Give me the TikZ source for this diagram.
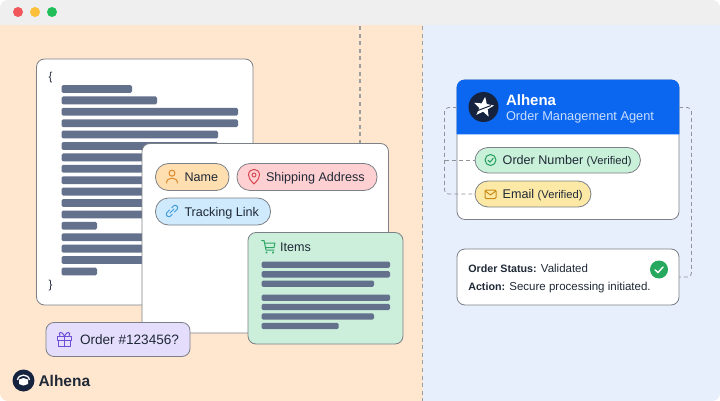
\documentclass[tikz,border=0pt]{standalone}
\usepackage{fontspec}
\setmainfont{Liberation Sans}
\definecolor{peach}{HTML}{FFE6CF}
\definecolor{sky}{HTML}{E8EFFC}
\definecolor{topbar}{HTML}{EFEFEF}
\definecolor{barc}{HTML}{64718C}
\definecolor{edge}{HTML}{7C8087}
\definecolor{ink}{HTML}{1F2937}
\definecolor{navy}{HTML}{16233F}
\definecolor{blueh}{HTML}{0B66F0}
\tikzset{
  card/.style={draw=edge,line width=.8pt,fill=white,rounded corners=8pt,inner sep=0pt,outer sep=0pt},
  pill/.style={draw=edge,line width=.8pt,rounded corners=13pt,inner sep=0pt,outer sep=0pt},
  txt/.style={anchor=base west,inner sep=0pt,outer sep=0pt,text=ink},
  barline/.style={fill=barc,rounded corners=1.5pt},
  icon/.style={line width=1pt,line cap=round,line join=round},
  conn/.style={draw=edge!85,line width=.8pt,dash pattern=on 4pt off 3pt,rounded corners=4pt},
  divider/.style={draw=black!38,line width=1.2pt,dash pattern=on 4pt off 3.6pt}
}
\begin{document}
\begin{tikzpicture}[x=1pt,y=-1pt,font=\fontsize{12.6pt}{15pt}\selectfont]
\useasboundingbox (0,0) rectangle (720,401);
% window
\fill[white] (0,0) rectangle (720,401);
\begin{scope}
\clip[rounded corners=8pt] (0,0) rectangle (720,401);
\fill[peach] (0,25) rectangle (422.5,401);
\fill[sky] (422.5,25) rectangle (720,401);
\fill[topbar] (0,0) rectangle (720,25.5);
\end{scope}
\fill[color={rgb,255:red,240;green,86;blue,90}] (18,12) circle[radius=5pt];
\fill[color={rgb,255:red,251;green,191;blue,58}] (35,12) circle[radius=5pt];
\fill[color={rgb,255:red,34;green,190;blue,90}] (52,12) circle[radius=5pt];
\coordinate (divAtop) at (360,26);
\coordinate (divAbot) at (360,144);
\coordinate (divBtop) at (422.5,26);
\coordinate (divBbot) at (422.5,401);
\draw[divider] (divAtop) -- (divAbot);
\draw[divider] (divBtop) -- (divBbot);

% JSON card
\node[card,minimum width=216.5pt,minimum height=246pt] (json) at (144.75,182) {};
\node[txt,font=\fontsize{11.5pt}{14pt}\selectfont] (open) at (48.5,81) {\{};
\node[txt,font=\fontsize{11.5pt}{14pt}\selectfont] (close) at (48.5,288) {\}};
\foreach \yy/\xx in {89/132,100.4/157,111.8/238,123.2/238,134.6/218,146/218,157.4/218,168.8/218,180.2/218,191.6/218,203/218,214.4/218,225.8/97,237.2/218,248.6/218,260/218,271.4/97}
  \path[barline] (61.5,\yy-3.9) rectangle (\xx,\yy+3.9);

% fields card
\node[card,minimum width=246.5pt,minimum height=189.5pt] (fields) at (265.25,238.25) {};
\node[pill,fill={rgb,255:red,255;green,222;blue,176},minimum width=73.5pt,minimum height=27pt] (name) at (192.25,177) {};
\node[pill,fill={rgb,255:red,255;green,208;blue,210},minimum width=140pt,minimum height=27pt] (ship) at (307,177) {};
\node[pill,fill={rgb,255:red,208;green,234;blue,253},minimum width=115pt,minimum height=27pt] (track) at (213,211.5) {};
\node[txt] (nametxt) at (184.5,181.5) {Name};
\node[txt] (shiptxt) at (266,181.5) {Shipping Address};
\node[txt] (tracktxt) at (184.5,216) {Tracking Link};
% person
\begin{scope}[icon,draw={rgb,255:red,217;green,138;blue,46}]
\draw (172,173.2) circle[radius=3pt];
\draw (166.5,183) .. controls (166.5,176.5) and (177.5,176.5) .. (177.5,183);
\end{scope}
% pin
\begin{scope}[icon,draw={rgb,255:red,214;green,69;blue,80}]
\draw (254,184) .. controls (250,180) and (248.5,177.5) .. (248.5,175) .. controls (248.5,167.5) and (259.5,167.5) .. (259.5,175) .. controls (259.5,177.5) and (258,180) .. cycle;
\draw (254,175) circle[radius=2pt];
\end{scope}
% link
\begin{scope}[icon,draw={rgb,255:red,59;green,155;blue,216},rotate around={45:(172,211)}]
\draw[rounded corners=2.4pt] (171,208.5) -- (165,208.5) -- (165,213.5) -- (170,213.5);
\draw[rounded corners=2.4pt] (173,213.5) -- (179,213.5) -- (179,208.5) -- (174,208.5);
\draw (169,211) -- (175,211);
\end{scope}

% items card
\node[card,fill={rgb,255:red,203;green,239;blue,219},minimum width=155pt,minimum height=111.5pt] (items) at (325.5,288.25) {};
\node[txt] (itemstxt) at (280,251.5) {Items};
\begin{scope}[icon,draw={rgb,255:red,47;green,165;blue,101}]
\draw (261.7,240.5) -- (264,240.5) -- (266,250) -- (274,250);
\draw (264.6,243) -- (275,243) -- (274,247.5) -- (265.5,247.5);
\draw (266.5,252.5) circle[radius=.6pt];
\draw (273,252.5) circle[radius=.6pt];
\end{scope}
\foreach \yy/\xx in {264.7/390,274.3/390,283.7/374,297.7/390,307/390,316.5/374,326/338.7}
  \path[barline] (261.5,\yy-3.2) rectangle (\xx,\yy+3.2);

% order pill
\node[card,fill={rgb,255:red,229;green,221;blue,252},minimum width=144pt,minimum height=34pt] (order) at (118,339.5) {};
\node[txt,font=\fontsize{13.6pt}{16pt}\selectfont] (ordertxt) at (80,344.3) {Order \#123456?};
\begin{scope}[icon,draw={rgb,255:red,109;green,78;blue,216}]
\draw (57.5,336) rectangle (71.5,340);
\draw (58.8,340) rectangle (70.2,346.7);
\draw (64.5,336) -- (64.5,346.7);
\draw (64.5,336) .. controls (62,330.5) and (57.5,332) .. (60,336);
\draw (64.5,336) .. controls (67,330.5) and (71.5,332) .. (69,336);
\end{scope}

% logo bottom
\node[circle,fill=navy,minimum size=22pt,inner sep=0pt] (logo) at (23.5,380.5) {};
\fill[white] (19,379.5) -- (23.5,378) -- (28,379.5) -- (28,384) -- (23.5,385.5) -- (19,384) -- cycle;
\draw[white,line width=1.3pt] (17.5,380) .. controls (18.5,373.5) and (28.5,373.5) .. (29.5,380);
\node[txt,font=\fontsize{15.5pt}{18pt}\selectfont\bfseries] (brand) at (38.5,386.5) {Alhena};

% agent card
\node[card,minimum width=222pt,minimum height=139.5pt] (agent) at (568,149.75) {};
\fill[blueh] (456.6,134.5) {[rounded corners=8pt] -- (456.6,79.6) -- (679.4,79.6)} -- (679.4,134.5) -- cycle;
\node[circle,fill=navy,minimum size=30pt,inner sep=0pt] (star) at (483.5,107) {};
\begin{scope}[shift={(483.7,107.3)},rotate=-8]
\fill[white] (0,-10.5) -- (2.6,-3.6) -- (10,-3.2) -- (4.2,1.4) -- (6.2,8.5) -- (0,4.4) -- (-6.2,8.5) -- (-4.2,1.4) -- (-10,-3.2) -- (-2.6,-3.6) -- cycle;
\end{scope}
\draw[navy,line width=1pt] (474,112) -- (491,105.5);
\node[txt,text=white,font=\fontsize{15pt}{18pt}\selectfont\bfseries] (agenttitle) at (506,105.5) {Alhena};
\node[txt,text={rgb,255:red,200;green,222;blue,255},font=\fontsize{12.8pt}{15pt}\selectfont] (agentsub) at (506,121) {Order Management Agent};

% status card
\node[card,minimum width=222pt,minimum height=56pt] (status) at (568,277) {};

% verified pills
\node[pill,draw=none,minimum width=165.5pt,minimum height=25.5pt] (number) at (557.75,160.25) {};
\node[pill,draw=none,minimum width=116pt,minimum height=26pt] (email) at (533,194) {};
\coordinate (al) at (444.5,107.5);
\coordinate (ar) at (691.5,107.5);
\draw[conn] (agent.west |- al) -- (al) -- (al |- email.west) -- (email.west);
\draw[conn] (al |- number.west) -- (number.west);
\draw[conn] (agent.east |- ar) -- (ar) -- (ar |- status.east) -- (status.east);
\node[pill,fill={rgb,255:red,201;green,240;blue,216},minimum width=165.5pt,minimum height=25.5pt] (numberface) at (number) {};
\node[pill,fill={rgb,255:red,253;green,233;blue,166},minimum width=116pt,minimum height=26pt] (emailface) at (email) {};
\node[txt] (numbertxt) at (502.7,164.5) {Order Number {\fontsize{11.2pt}{14pt}\selectfont (Verified)}};
\node[txt] (emailtxt) at (502.7,198.5) {Email {\fontsize{11.2pt}{14pt}\selectfont (Verified)}};
\begin{scope}[icon,draw={rgb,255:red,31;green,157;blue,91}]
\draw (490.5,160) circle[radius=5.5pt];
\draw (488,160.2) -- (490,162.2) -- (493.2,158.3);
\end{scope}
\begin{scope}[icon,draw={rgb,255:red,201;green,138;blue,21}]
\draw[rounded corners=1.2pt] (485,190) rectangle (496,198.5);
\draw (485.3,191) -- (490.5,195) -- (495.7,191);
\end{scope}

% status text
\node[txt,font=\fontsize{11.5pt}{14pt}\selectfont] (statusl) at (468.3,272.5) {{\fontsize{10.7pt}{14pt}\selectfont\bfseries Order Status:} Validated};
\node[txt,font=\fontsize{11.5pt}{14pt}\selectfont] (statusa) at (468.3,290.5) {{\fontsize{10.7pt}{14pt}\selectfont\bfseries Action:} Secure processing initiated.};
\node[circle,fill={rgb,255:red,39;green,168;blue,95},minimum size=18pt,inner sep=0pt] (okmark) at (659,269.5) {};
\draw[white,line width=1.4pt,line cap=round,line join=round] (655,269.8) -- (658,272.6) -- (663,267);
\end{tikzpicture}
\end{document}
